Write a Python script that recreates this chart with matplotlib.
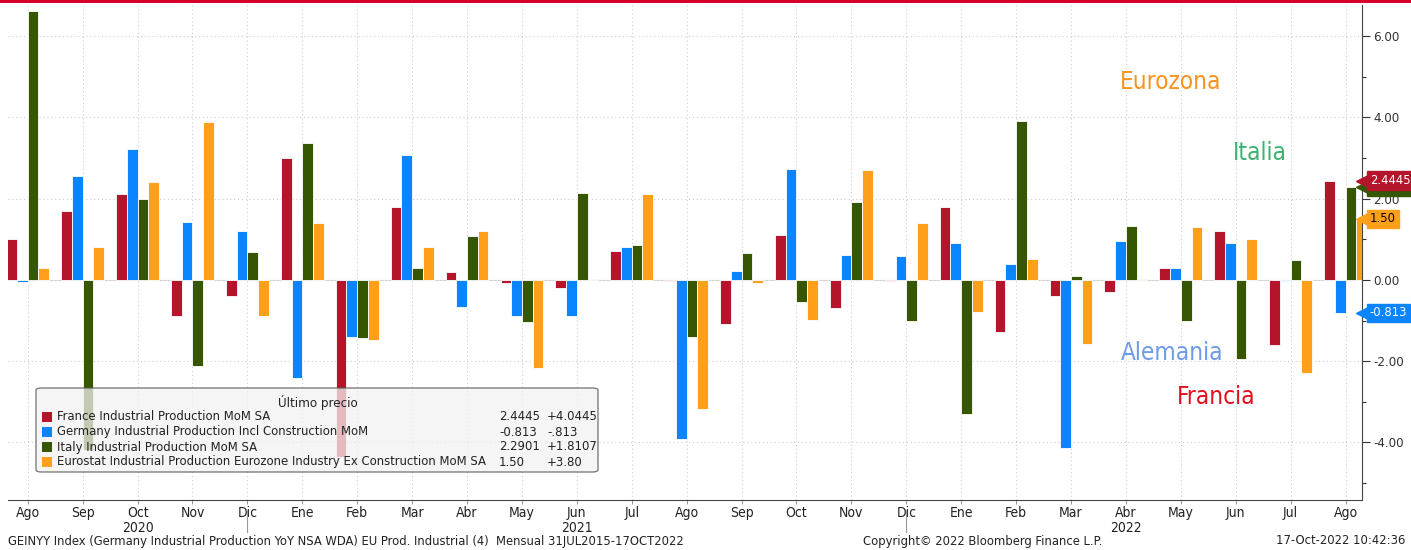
import numpy as np
import matplotlib.pyplot as plt
from matplotlib.patches import FancyBboxPatch, Rectangle
from matplotlib import font_manager

# fonts: narrow sans if present, like the Bloomberg terminal font
names = set(f.name for f in font_manager.fontManager.ttflist)
fam = ['Liberation Sans Narrow'] if 'Liberation Sans Narrow' in names else []
plt.rcParams['font.family'] = fam + ['DejaVu Sans']
plt.rcParams['font.stretch'] = 'condensed'

# months Aug 2020 .. Aug 2022
months = ['Ago', 'Sep', 'Oct', 'Nov', 'Dic', 'Ene', 'Feb', 'Mar', 'Abr', 'May', 'Jun', 'Jul',
          'Ago', 'Sep', 'Oct', 'Nov', 'Dic', 'Ene', 'Feb', 'Mar', 'Abr', 'May', 'Jun', 'Jul', 'Ago']
years = ['2020', '2021', '2022']
year_pos = [2, 10, 20]      # month index under which the year is written
year_breaks = [4, 16]       # Dic markers

france = [1.01, 1.70, 2.11, -0.88, -0.39, 3.00, -4.35, 1.79, 0.20, -0.08, -0.19, 0.70,
          -0.03, -1.08, 1.10, -0.70, -0.02, 1.79, -1.29, -0.40, -0.29, 0.30, 1.20, -1.60, 2.4445]
germany = [-0.04, 2.57, 3.23, 1.43, 1.20, -2.42, -1.41, 3.07, -0.67, -0.88, -0.90, 0.80,
           -3.92, 0.21, 2.73, 0.62, 0.60, 0.92, 0.39, -4.15, 0.95, 0.30, 0.92, -0.02, -0.813]
italy = [6.61, -4.19, 2.00, -2.13, 0.69, 3.37, -1.44, 0.30, 1.08, -1.03, 2.13, 0.85,
         -1.41, 0.67, -0.55, 1.91, -1.01, -3.30, 3.92, 0.10, 1.33, -1.01, -1.95, 0.48, 2.2901]
eurozone = [0.30, 0.80, 2.41, 3.88, -0.88, 1.40, -1.48, 0.80, 1.20, -2.18, 0.02, 2.11,
            -3.19, -0.07, -0.99, 2.70, 1.40, -0.79, 0.51, -1.59, 0.02, 1.31, 1.01, -2.30, 1.50]

series = [france, germany, italy, eurozone]
colors = ['#B5152B', '#0A84FF', '#365600', '#FF9F1A']
legend_names = ['France Industrial Production MoM SA',
                'Germany Industrial Production Incl Construction MoM',
                'Italy Industrial Production MoM SA',
                'Eurostat Industrial Production Eurozone Industry Ex Construction MoM SA']
last_txt = ['2.4445', '-0.813', '2.2901', '1.50']
chg_txt = ['+4.0445', '-.813', '+1.8107', '+3.80']
tag_txt_color = ['white', 'white', 'white', 'black']

# series names written on the chart
labels = ['Eurozona', 'Italia', 'Alemania', 'Francia']
label_colors = ['#F7931E', '#3CB371', '#6C9BEA', '#E0101E']

fig = plt.figure(figsize=(14.11, 5.5), dpi=100)
ax = fig.add_axes([8/1411, 50/550, (1362-8)/1411, 545/550 - 50/550])

x = np.arange(len(months))
pitch = 0.195
for i, (vals, c) in enumerate(zip(series, colors)):
    ax.bar(x + (i - 1.5)*pitch, vals, width=pitch, color=c, edgecolor='white', linewidth=0.6, zorder=3)

ax.set_xlim(-0.36, 24.3)
ax.set_ylim(-5.42, 6.77)

ax.yaxis.tick_right()
ax.set_yticks([-4, -2, 0, 2, 4, 6])
ax.set_yticklabels(['%.2f' % v for v in [-4, -2, 0, 2, 4, 6]], fontsize=9.5, color='#222222')
ax.set_yticks([-5, -3, -1, 1, 3, 5], minor=True)
ax.tick_params(axis='y', which='major', length=6, width=0.8, pad=2, colors='#333333')
ax.tick_params(axis='y', which='minor', length=3, width=0.8, colors='#333333', right=True)
ax.set_xticks(x)
ax.set_xticklabels(months, fontsize=10, color='#222222')
ax.tick_params(axis='x', length=3, width=0.6, colors='#888888', labelcolor='#222222', pad=1)

ax.grid(True, linestyle=(0, (1, 2.5)), color='#cccccc', linewidth=0.8, zorder=0)
for s in ['top', 'left']:
    ax.spines[s].set_visible(False)
ax.spines['right'].set_color('#444444')
ax.spines['bottom'].set_color('#444444')
ax.axhline(0, color='#dddddd', linewidth=0.8, zorder=1)

for yr, p in zip(years, year_pos):
    ax.text(p, -0.057, yr, transform=ax.get_xaxis_transform(), ha='center', va='center',
            fontsize=10, color='#222222')
for p in year_breaks:
    ax.plot([p, p], [-0.022, -0.065], transform=ax.get_xaxis_transform(), color='#999999',
            linewidth=0.8, clip_on=False)

# chart labels
lbl_xy = [(1171, 82), (1260, 153), (1172, 353), (1216, 397)]
for t, c, (px, py) in zip(labels, label_colors, lbl_xy):
    fig.text(px/1411, 1 - py/550, t, color=c, fontsize=17.5, ha='center', va='center')

# last value tags on the right axis
order = [2, 0, 3, 1]
for i in order:
    v = series[i][-1]
    ax.plot(1.0015, v, marker='<', markersize=11, color=colors[i], transform=ax.get_yaxis_transform(),
            clip_on=False, zorder=5)
    ax.text(1.0058, v, last_txt[i], transform=ax.get_yaxis_transform(), fontsize=9.3,
            color=tag_txt_color[i], va='center', ha='left', zorder=6,
            bbox=dict(boxstyle='square,pad=0.22', fc=colors[i], ec=colors[i]))

# legend box
lx0, ly0, lx1, ly1 = 36, 388, 598, 472
box = FancyBboxPatch((lx0/1411, 1 - ly1/550), (lx1 - lx0)/1411, (ly1 - ly0)/550,
                     boxstyle='round,pad=0,rounding_size=0.004', transform=fig.transFigure,
                     fc='#f2f2f2', ec='#555555', lw=1.0, alpha=0.75, zorder=10)
fig.patches.append(box)
fig.text(318/1411, 1 - 403/550, 'Último precio', fontsize=9.5, ha='center', va='center', color='#222222', zorder=11)
for k in range(4):
    yy = 1 - (417 + 15*k)/550
    fig.patches.append(Rectangle((42/1411, yy - 5/550), 10/1411, 10/550, transform=fig.transFigure,
                                 fc=colors[k], ec='none', zorder=11))
    fig.text(57/1411, yy, legend_names[k], fontsize=9.4, va='center', ha='left', color='#222222', zorder=11)
    fig.text(499/1411, yy, last_txt[k], fontsize=9.4, va='center', ha='left', color='#222222', zorder=11)
    fig.text(547/1411, yy, chg_txt[k], fontsize=9.4, va='center', ha='left', color='#222222', zorder=11)

# footer
fig.text(8/1411, 1 - 541/550, 'GEINYY Index (Germany Industrial Production YoY NSA WDA) EU Prod. Industrial (4)  Mensual 31JUL2015-17OCT2022',
         fontsize=9.3, va='center', ha='left', color='#222222')
fig.text(983/1411, 1 - 541/550, 'Copyright\u00a9 2022 Bloomberg Finance L.P.', fontsize=9.3, va='center', ha='center', color='#222222')
fig.text(1405/1411, 1 - 541/550, '17-Oct-2022 10:42:36', fontsize=9.3, va='center', ha='right', color='#222222')

# red strip on top
fig.patches.append(Rectangle((0, 1 - 3/550), 1, 3/550, transform=fig.transFigure, fc='#D6002A', ec='none'))

fig.savefig('out.png', dpi=100)
